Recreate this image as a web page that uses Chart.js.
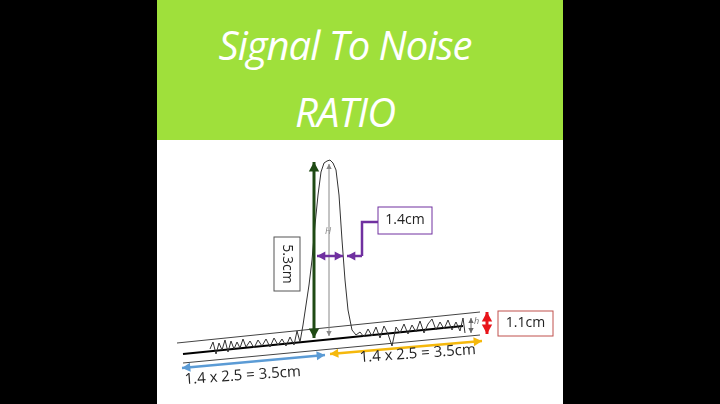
<!DOCTYPE html>
<html>
<head>
<meta charset="utf-8">
<script src="https://cdn.jsdelivr.net/npm/chart.js@4.4.0/dist/chart.umd.min.js"></script>
<style>
  body { margin: 0; background: #000; width: 720px; height: 404px; overflow: hidden; }
  #panel { position: absolute; left: 157px; top: 0; width: 406px; height: 404px; background: #fff; }
  #head { position: absolute; left: 0; top: 0; width: 406px; height: 140px; background: #9fe03b; }
  #head div { position: absolute; left: 0; width: 376px; text-align: center; color: #fff;
    font-family: "Open Sans", sans-serif; font-style: italic; font-weight: 400; font-size: 40px;
    letter-spacing: -1px; }
  #wrap { position: absolute; left: 0; top: 140px; width: 406px; height: 264px; }
</style>
</head>
<body>
<div id="panel">
  <div id="head"><div style="top:17px">Signal To Noise</div><div style="top:84px">RATIO</div></div>
  <div id="wrap"><canvas id="snr"></canvas></div>
</div>
<script>
// Trace: x = px from panel left, y = px up from panel bottom
const traceX = [53, 56, 59, 62, 65, 68, 71, 74, 77, 80, 83, 86, 89, 93, 97, 101, 105, 109, 113, 117, 121, 125, 129, 133, 137, 140, 143, 146, 149, 152, 155, 158, 161, 164, 167, 170, 173, 176, 179, 182, 185, 188, 191, 195, 199, 203, 207, 211, 215, 219, 223, 227, 231, 235, 239, 243, 247, 251, 255, 259, 263, 267, 271, 275, 279, 283, 287, 291, 295, 299, 303, 306, 308];
const traceY = [55, 62, 50, 61, 54, 64, 52, 63, 55, 62, 56, 65, 57, 63, 56, 64, 58, 65, 57, 66, 59, 65, 58, 67, 59, 73, 62, 79, 99, 119, 144, 179, 209, 232, 241, 243, 244, 241, 234, 209, 164, 124, 94, 74, 69, 72, 67, 75, 68, 77, 66, 78, 70, 58, 77, 71, 80, 70, 79, 72, 83, 71, 80, 85, 74, 82, 75, 84, 74, 82, 73, 86, 71];
const baseMid = [[26, 50], [306, 78]];
const baseTop = [[20, 61], [323, 92]];
const baseLow = [[26, 41], [323, 69]];
const labels = ['1.4cm', '5.3cm', '1.1cm', '1.4 x 2.5 = 3.5cm'];

function pts(xs, ys) { return xs.map((x, i) => ({ x: x, y: ys[i] })); }
function seg(p) { return p.map(q => ({ x: q[0], y: q[1] })); }

const annotate = {
  id: 'annotate',
  afterDatasetsDraw(chart) {
    const c = chart.ctx, sx = chart.scales.x, sy = chart.scales.y;
    const X = v => sx.getPixelForValue(v), Y = v => sy.getPixelForValue(v);
    function arrow(x1, y1, x2, y2, col, w, heads) {
      const L = w * 2.6 + 3;
      c.strokeStyle = col; c.fillStyle = col; c.lineWidth = w;
      c.beginPath(); c.moveTo(X(x1), Y(y1)); c.lineTo(X(x2), Y(y2)); c.stroke();
      const head = (px, py, ang) => {
        c.beginPath(); c.moveTo(px, py);
        c.lineTo(px - L * Math.cos(ang - 0.5), py - L * Math.sin(ang - 0.5));
        c.lineTo(px - L * Math.cos(ang + 0.5), py - L * Math.sin(ang + 0.5));
        c.closePath(); c.fill();
      };
      const ang = Math.atan2(Y(y2) - Y(y1), X(x2) - X(x1));
      if (heads > 0) head(X(x2), Y(y2), ang);
      if (heads > 1) head(X(x1), Y(y1), ang + Math.PI);
    }
    function box(x, y, w, h, col, text, rot) {
      c.fillStyle = '#fff'; c.strokeStyle = col; c.lineWidth = 1;
      c.fillRect(X(x), Y(y), w, h); c.strokeRect(X(x), Y(y), w, h);
      c.save(); c.translate(X(x) + w / 2, Y(y) + h / 2); c.rotate(rot);
      c.fillStyle = '#222'; c.font = '14px "Open Sans", sans-serif';
      c.textAlign = 'center'; c.textBaseline = 'middle'; c.fillText(text, 0, 0); c.restore();
    }
    c.save();
    // height markers
    arrow(172, 68, 172, 240, '#888', 1, 2);
    c.fillStyle = '#888'; c.font = 'italic 9px "Open Sans", sans-serif';
    c.fillText('H', X(168), Y(170));
    arrow(314, 71, 314, 86, '#666', 1, 2);
    c.fillText('h', X(317), Y(80));
    arrow(157, 66, 157, 242, '#1f4a14', 3, 2);
    // width at half height
    arrow(160, 148, 186, 148, '#7030a0', 2.5, 2);
    arrow(205, 148, 190, 148, '#7030a0', 2.5, 1);
    c.beginPath(); c.moveTo(X(205), Y(148)); c.lineTo(X(205), Y(182)); c.lineTo(X(221), Y(182)); c.stroke();
    // noise band
    arrow(330, 70, 330, 92, '#e8141a', 3, 2);
    // regions
    arrow(168, 49, 25, 36, '#5b9bd5', 2.5, 2);
    arrow(173, 50, 325, 63, '#f5b80c', 2.5, 2);
    box(221, 197, 54, 27, '#7030a0', labels[0], 0);
    box(117, 167, 26, 54, '#555', labels[1], Math.PI / 2);
    box(341, 93, 55, 25, '#c0504d', labels[2], 0);
    c.fillStyle = '#222'; c.font = '15px "Open Sans", sans-serif'; c.textAlign = 'center';
    [[86, 24], [261, 46]].forEach(p => {
      c.save(); c.translate(X(p[0]), Y(p[1])); c.rotate(-0.07); c.fillText(labels[3], 0, 0); c.restore();
    });
    c.restore();
  }
};

new Chart(document.getElementById('snr'), {
  type: 'line',
  data: {
    datasets: [
      { data: pts(traceX, traceY), borderColor: '#333', borderWidth: 1, pointRadius: 0, tension: 0 },
      { data: seg(baseMid), borderColor: '#000', borderWidth: 2, pointRadius: 0 },
      { data: seg(baseTop), borderColor: '#444', borderWidth: 1, pointRadius: 0 },
      { data: seg(baseLow), borderColor: '#444', borderWidth: 1, pointRadius: 0 }
    ]
  },
  options: {
    responsive: true, maintainAspectRatio: false, animation: false,
    layout: { padding: 0 },
    plugins: { legend: { display: false }, tooltip: { enabled: false } },
    scales: {
      x: { type: 'linear', min: 0, max: 406, display: false },
      y: { min: 0, max: 264, display: false }
    }
  },
  plugins: [annotate]
});
</script>
</body>
</html>
